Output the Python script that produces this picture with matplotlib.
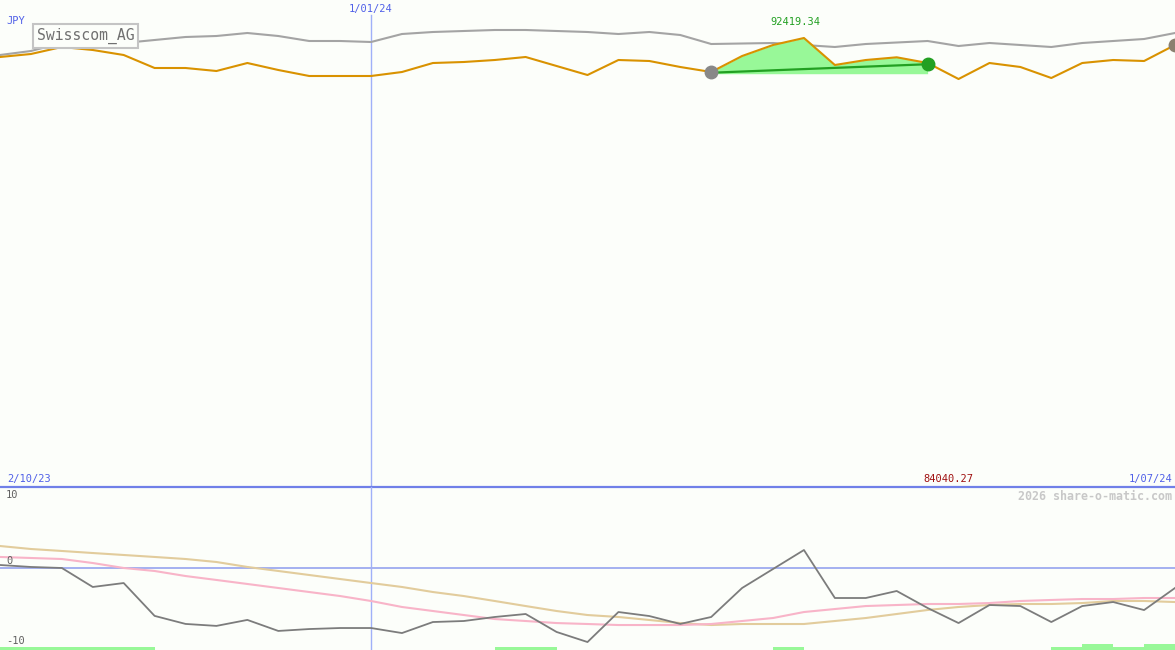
import matplotlib
matplotlib.use("Agg")
import matplotlib.pyplot as plt
import matplotlib.transforms as mtransforms

plt.rcParams['font.family'] = ['DejaVu Sans Mono']

# weekly closes, 2 Oct 2023 .. 1 Jul 2024 (JPY)
price = [88536, 89150, 90580, 89967, 88945, 86288, 86288, 85675, 87310, 85880,
         84654, 84654, 84654, 85471, 87310, 87515, 87923, 88536, 86697, 84858,
         87923, 87719, 86493, 85471, 88741, 90989, 92419.34, 86902, 87923, 88475,
         87310, 84040.27, 87310, 86493, 84245, 87310, 87923, 87719, 90989]
# comparison line (grey)
compare = [88945, 89763, 91397, 92011, 91397, 92011, 92624, 92828, 93441, 92828,
           91806, 91806, 91602, 93237, 93646, 93850, 94054, 94054, 93850, 93646,
           93237, 93646, 93032, 91193, 91295, 91397, 90989, 90581, 91193, 91500,
           91806, 90784, 91397, 90989, 90581, 91397, 91806, 92215, 93441]

# lower panel indicators
momentum = [0.37, 0.1, -0.04, -2.64, -2.1, -6.6, -7.7, -7.97, -7.15, -8.66,
            -8.4, -8.26, -8.26, -8.95, -7.44, -7.3, -6.75, -6.34, -8.8, -10.18,
            -6.07, -6.62, -7.7, -6.75, -2.78, -0.18, 2.42, -4.15, -4.15, -3.19,
            -5.52, -7.58, -5.11, -5.25, -7.44, -5.25, -4.7, -5.8, -2.78]
slow_pink = [1.47, 1.33, 1.19, 0.64, -0.04, -0.45, -1.14, -1.68, -2.23, -2.78,
             -3.33, -3.88, -4.56, -5.38, -5.93, -6.48, -7.03, -7.3, -7.58, -7.71,
             -7.85, -7.85, -7.85, -7.71, -7.3, -6.89, -6.07, -5.66, -5.25, -5.11,
             -4.97, -4.97, -4.84, -4.56, -4.42, -4.29, -4.29, -4.15, -4.15]
slow_tan = [2.97, 2.56, 2.29, 2.01, 1.74, 1.47, 1.19, 0.78, 0.1, -0.45,
            -1.0, -1.55, -2.1, -2.64, -3.33, -3.88, -4.56, -5.25, -5.93, -6.48,
            -6.75, -7.16, -7.58, -7.85, -7.71, -7.71, -7.71, -7.3, -6.89, -6.34,
            -5.79, -5.38, -5.11, -4.97, -4.97, -4.84, -4.56, -4.56, -4.7]
# signal strip per week interval (0 none, 1 low, 2 high)
signal = [1, 1, 1, 1, 1, 0, 0, 0, 0, 0, 0, 0, 0, 0, 0, 0, 1, 1, 0, 0,
          0, 0, 0, 0, 0, 1, 0, 0, 0, 0, 0, 0, 0, 0, 1, 2, 1, 2]

weeks = list(range(len(price)))
year_mark = 12
trade_start, trade_end = 23, 30
peak_i = price.index(max(price))
low_i = price.index(min(price))

bg = '#fcfefa'
blue = '#5060e8'

fig = plt.figure(figsize=(11.75, 6.5), dpi=100, facecolor=bg)
ax = fig.add_axes([0, 163 / 650, 1, 487 / 650])
ax2 = fig.add_axes([0, 0, 1, 163 / 650])
for a in (ax, ax2):
    a.set_facecolor(bg)
    a.set_xlim(0, len(price) - 1)
    a.axis('off')

ax.set_ylim(662, 100185)
ax2.set_ylim(-11.27, 11.05)

# top panel
ax.axvline(year_mark, ymax=(487 - 15) / 487, color='#a0b0f8', lw=1)
ax.plot(weeks, compare, color='#a4a4a4', lw=1.5, zorder=2)
xs = weeks[trade_start:trade_end + 1]
ys = price[trade_start:trade_end + 1]
ax.fill_between(xs, ys, price[trade_start] - 350, color='#98f898', lw=0, zorder=2)
ax.plot(weeks, price, color='#d99200', lw=1.5, zorder=3)
ax.plot([trade_start, trade_end], [price[trade_start] - 150, price[trade_end] - 250],
        color='#22a022', lw=1.6, zorder=4)
ax.plot(trade_start, price[trade_start], 'o', color='#888888', ms=9, zorder=5)
ax.plot(trade_end, price[trade_end] - 300, 'o', color='#22a022', ms=9, zorder=5)
ax.plot(weeks[-1], price[-1], 'o', color='#8a8070', ms=9, zorder=5, clip_on=True)

ax.annotate(f"{max(price):.2f}", (peak_i, max(price)), xytext=(-9, 11),
            textcoords='offset pixels', ha='center', va='bottom',
            color='#22a022', fontsize=7.5)
ax.annotate(f"{min(price):.2f}", (low_i, 662), xytext=(-10, 8),
            textcoords='offset pixels', ha='center', va='center',
            color='#a01010', fontsize=7.5)
ax.text(year_mark, 0.9815, "1/01/24", transform=mtransforms.blended_transform_factory(ax.transData, ax.transAxes),
        ha='center', va='center', color=blue, fontsize=7.5)
ax.text(6 / 1175, (487 - 21) / 487, "JPY", transform=ax.transAxes,
        ha='left', va='center', color=blue, fontsize=7.5)
ax.text(7 / 1175, 8 / 487, "2/10/23", transform=ax.transAxes,
        ha='left', va='center', color=blue, fontsize=7.5)
ax.text(1172 / 1175, 8 / 487, "1/07/24", transform=ax.transAxes,
        ha='right', va='center', color=blue, fontsize=7.5)
ax.text(37 / 1175, (487 - 36) / 487, "Swisscom_AG", transform=ax.transAxes,
        ha='left', va='center', color='#707070', fontsize=10.6, zorder=6,
        bbox=dict(boxstyle='square,pad=0.25', fc=bg, ec='#c4c4c4', lw=1.5))
ax.axhline(662, color='#7080e8', lw=1.6, clip_on=False, zorder=6)

# lower panel
ax2.axvline(year_mark, color='#a0b0f8', lw=1)
ax2.axhline(0, color='#a4b0f0', lw=1.4)
ax2.bar(weeks[:-1], [s * 0.41 for s in signal], width=1, align='edge',
        bottom=-11.27, color='#98f898', lw=0)
ax2.plot(weeks, slow_tan, color='#e2cc9c', lw=1.5)
ax2.plot(weeks, slow_pink, color='#f8b4c8', lw=1.5)
ax2.plot(weeks, momentum, color='#7c7c7c', lw=1.3)

lbl = mtransforms.blended_transform_factory(ax2.transAxes, ax2.transData)
ax2.text(6 / 1175, 10, "10", transform=lbl, ha='left', va='center', color='#606060', fontsize=7.5)
ax2.text(6 / 1175, 0.3, "0", transform=lbl, ha='left', va='bottom', color='#606060', fontsize=7.5)
ax2.text(6 / 1175, -10, "-10", transform=lbl, ha='left', va='center', color='#606060', fontsize=7.5)
ax2.text(1172 / 1175, 0.94, "2026 share-o-matic.com", transform=ax2.transAxes,
         ha='right', va='center', color='#c8c8c8', fontsize=8.4, fontweight='bold')

fig.savefig("out.png", dpi=100, facecolor=bg)
